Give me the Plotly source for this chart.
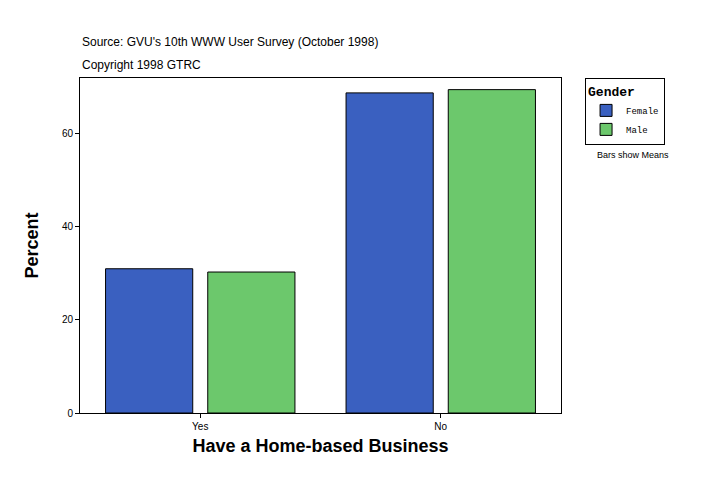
import plotly.graph_objects as go

categories = ["Yes", "No"]
female = [31.0, 68.8]
male = [30.3, 69.5]

fig = go.Figure()
fig.add_trace(go.Bar(x=categories, y=female, name="Female",
                     marker=dict(color="#3a60c0", line=dict(color="black", width=1))))
fig.add_trace(go.Bar(x=categories, y=male, name="Male",
                     marker=dict(color="#6cc86c", line=dict(color="black", width=1))))

fig.update_layout(
    width=724, height=496,
    paper_bgcolor="white", plot_bgcolor="white",
    margin=dict(l=72, r=171, t=70, b=91),
    barmode="group", bargap=0.15, bargroupgap=0.147,
    font=dict(family="Arial", size=10, color="black"),
    showlegend=True,
    legend=dict(
        x=1.05, y=1.0, xanchor="left", yanchor="top",
        bordercolor="black", borderwidth=1, bgcolor="white",
        title=dict(text="<b>Gender</b>", font=dict(family="Courier New", size=13)),
        font=dict(family="Courier New", size=9),
        itemwidth=30, tracegroupgap=0,
    ),
    xaxis=dict(
        showline=True, linecolor="black", mirror=True,
        ticks="outside", ticklen=4, tickcolor="black",
        title=dict(text="<b>Have a Home-based Business</b>",
                   font=dict(family="Arial Black, Arial", size=18), standoff=8),
    ),
    yaxis=dict(
        range=[0, 72], tickvals=[0, 20, 40, 60],
        showline=True, linecolor="black", mirror=True, showgrid=False, zeroline=False,
        ticks="outside", ticklen=4, tickcolor="black",
        title=dict(text="<b>Percent</b>",
                   font=dict(family="Arial Black, Arial", size=18), standoff=18),
    ),
    annotations=[
        dict(text="Source: GVU's 10th WWW User Survey (October 1998)", xref="paper", yref="paper",
             x=0, y=1.0, xanchor="left", yanchor="bottom", yshift=27, showarrow=False,
             font=dict(size=12)),
        dict(text="Copyright 1998 GTRC", xref="paper", yref="paper",
             x=0, y=1.0, xanchor="left", yanchor="bottom", yshift=4, showarrow=False,
             font=dict(size=12)),
        dict(text="Bars show Means", xref="paper", yref="paper",
             x=1.07, y=0.79, xanchor="left", yanchor="top", showarrow=False,
             font=dict(size=9)),
    ],
)

fig.write_html("out.html")
